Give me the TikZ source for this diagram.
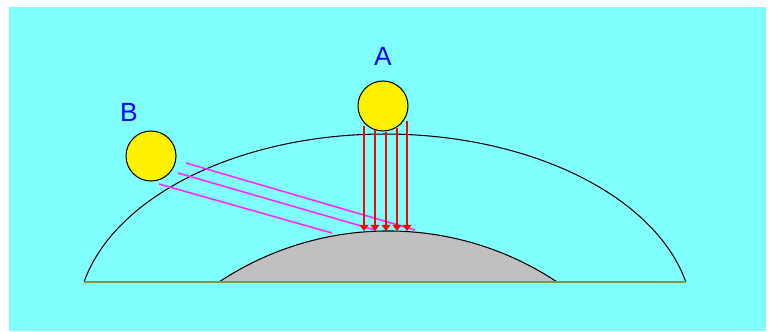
\documentclass[tikz,border=0pt]{standalone}
\usepackage{fontspec}
\setmainfont{Liberation Sans}
\usetikzlibrary{arrows.meta,positioning}
\definecolor{skybg}{RGB}{128,255,255}
\definecolor{groundcol}{RGB}{136,150,56}
\definecolor{domegray}{RGB}{192,192,192}
\definecolor{slantcol}{RGB}{255,40,255}
\begin{document}
\begin{tikzpicture}[x=0.02cm, y=-0.02cm, >={Triangle[width=5pt,length=3.5pt]},
  sun/.style={circle, draw, line width=0.6pt, fill=yellow, minimum size=1cm, inner sep=0pt},
  lbl/.style={text=blue, font=\fontsize{15}{17}\selectfont, inner sep=0pt},
  ray/.style={->, red, line width=1.1pt},
  slant/.style={slantcol, line width=0.9pt}]
\useasboundingbox (0,0) rectangle (773,331);
\fill[skybg] (9,7) rectangle (766,331);
% atmosphere and earth
\coordinate (atmL) at (84,282);
\coordinate (atmR) at (686,282);
\coordinate (earthL) at (219,282);
\draw[line width=0.6pt] (atmL) arc[start angle=192.3, end angle=347.7, x radius=308, y radius=188];
\filldraw[fill=domegray, line width=0.6pt] (earthL) arc[start angle=236.4, end angle=303.6, radius=305.5] -- cycle;
\draw[groundcol, line width=1.4pt] (atmL) -- (atmR);
% suns
\node[sun] (sunA) at (383,106) {};
\node[sun] (sunB) at (151,156) {};
\node[lbl, above=0.29cm of sunA] (labA) {A};
\node[lbl, above=0.18cm of sunB, xshift=-0.44cm] (labB) {B};
% slanted rays from B
\path (186,163) coordinate (b1) (415,230) coordinate (b1e)
      (178,173) coordinate (b2) (375,230) coordinate (b2e)
      (159,184) coordinate (b3) (332,233) coordinate (b3e);
\draw[slant] (b1) -- (b1e);
\draw[slant] (b2) -- (b2e);
\draw[slant] (b3) -- (b3e);
% vertical rays from A
\path (364,126) coordinate (a1) (364,231) coordinate (a1e)
      (375,130) coordinate (a2) (375,231) coordinate (a2e)
      (386,132) coordinate (a3) (386,231) coordinate (a3e)
      (397,128) coordinate (a4) (397,231) coordinate (a4e)
      (407,121) coordinate (a5) (407,231) coordinate (a5e);
\draw[ray] (a1) -- (a1e);
\draw[ray] (a2) -- (a2e);
\draw[ray] (a3) -- (a3e);
\draw[ray] (a4) -- (a4e);
\draw[ray] (a5) -- (a5e);
\end{tikzpicture}
\end{document}
